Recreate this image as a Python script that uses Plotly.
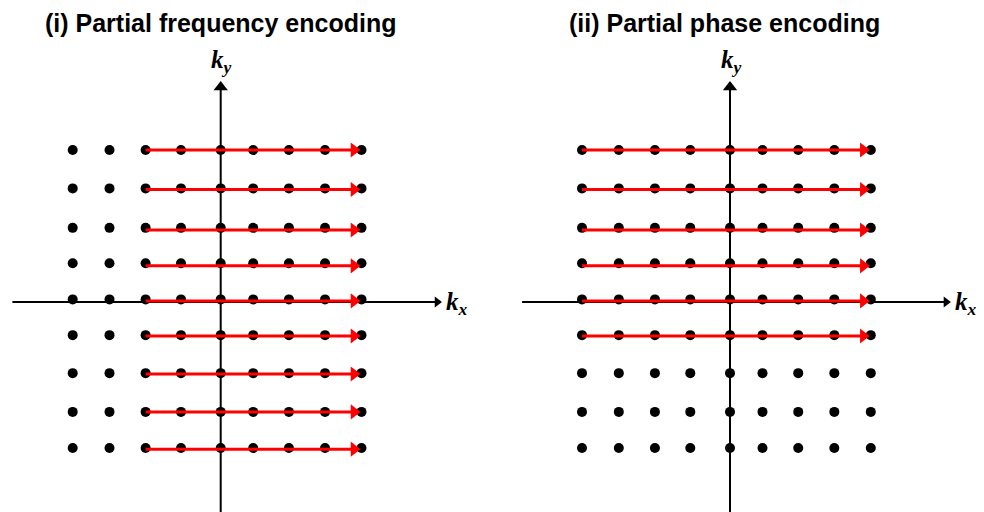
import plotly.graph_objects as go

# k-space grid (same sample positions in both panels, in grid units)
kx = [-4.1, -3.08, -2.08, -1.1, 0.0, 0.9, 1.89, 2.89, 3.9]
ky = [4.08, 3.05, 1.99, 1.04, 0.07, -0.89, -1.91, -2.95, -3.92]

# readout trajectories (red arrows): rows, start and end kx
traj_ky_left = [4.08, 3.02, 1.93, 0.97, 0.03, -0.91, -1.93, -2.95, -3.95]
traj_start_left, traj_end_left = -2.08, 3.9
traj_ky_right = [4.08, 3.02, 1.93, 0.97, 0.03, -0.91]
traj_start_right, traj_end_right = -4.1, 3.9

# coordinate axes extents
axis_x_left = [-5.77, 6.15]
axis_x_right = [-5.76, 6.14]
axis_y = [-5.64, 5.96]

titles = ["(i) Partial frequency encoding", "(ii) Partial phase encoding"]

# page has an 8px body margin: figure covers window px 8..984 x 8..512
W, H = 976, 504
XL = [-5.892, 7.515]
XR = [-6.593, 7.036]
YR = [-5.638, 7.893]
split = 484 / W
px_x = (split * W) / (XL[1] - XL[0])     # px per kx unit
px_y = H / (YR[1] - YR[0])               # px per ky unit

K = 2 / 3 ** 0.5  # triangle marker tip distance factor (times radius)

fig = go.Figure()


def head(xa, ya, x, y, size, color, direction):
    """triangle arrow head whose tip sits at (x, y)"""
    r = size / 2
    if direction == "right":
        x = x - K * r / px_x
        sym = "triangle-right"
    else:
        y = y - K * r / px_y
        sym = "triangle-up"
    fig.add_trace(go.Scatter(
        x=[x], y=[y], mode="markers",
        marker=dict(symbol=sym, size=size, color=color, line=dict(width=0)),
        xaxis=xa, yaxis=ya, hoverinfo="skip", showlegend=False))


def panel(xa, ya, traj_ky, t0, t1, ax_x):
    # coordinate axes
    fig.add_trace(go.Scatter(
        x=[ax_x[0], ax_x[1] - 0.1], y=[0, 0], mode="lines",
        line=dict(color="black", width=2),
        xaxis=xa, yaxis=ya, hoverinfo="skip", showlegend=False))
    head(xa, ya, ax_x[1], 0, 9.6, "black", "right")
    fig.add_trace(go.Scatter(
        x=[0, 0], y=[axis_y[0], axis_y[1] - 0.1], mode="lines",
        line=dict(color="black", width=2),
        xaxis=xa, yaxis=ya, hoverinfo="skip", showlegend=False))
    head(xa, ya, 0, axis_y[1], 12.4, "black", "up")
    # grid dots
    gx, gy = [], []
    for yy in ky:
        for xx in kx:
            gx.append(xx)
            gy.append(yy)
    fig.add_trace(go.Scatter(
        x=gx, y=gy, mode="markers",
        marker=dict(symbol="circle", size=10, color="black", line=dict(width=0)),
        xaxis=xa, yaxis=ya, hoverinfo="skip", showlegend=False))
    # red trajectories
    for yy in traj_ky:
        fig.add_trace(go.Scatter(
            x=[t0, t1 - 0.1], y=[yy, yy], mode="lines",
            line=dict(color="#ff0000", width=3),
            xaxis=xa, yaxis=ya, hoverinfo="skip", showlegend=False))
        head(xa, ya, t1, yy, 13, "#ff0000", "right")


panel("x", "y", traj_ky_left, traj_start_left, traj_end_left, axis_x_left)
panel("x2", "y", traj_ky_right, traj_start_right, traj_end_right, axis_x_right)

ann = []
lab_font = dict(family="Liberation Serif", size=25, color="black")
for xr, xpos in (("x", axis_x_left[1]), ("x2", axis_x_right[1])):
    ann.append(dict(x=xpos, y=0, xref=xr, yref="y", xanchor="left", yanchor="middle",
                    xshift=1, yshift=-1, showarrow=False,
                    text="<b><i>k<sub>x</sub></i></b>", font=lab_font))
    ann.append(dict(x=0, y=axis_y[1], xref=xr, yref="y", xanchor="center", yanchor="bottom",
                    xshift=1, yshift=1, showarrow=False,
                    text="<b><i>k<sub>y</sub></i></b>", font=lab_font))
for t, xp in zip(titles, [212.5 / W, 716 / W]):
    ann.append(dict(x=xp, y=1 - 14.5 / H, xref="paper", yref="paper", xanchor="center",
                    yanchor="middle", showarrow=False, text="<b>" + t + "</b>",
                    font=dict(family="Liberation Sans", size=25, color="black")))

ax_common = dict(visible=False, showgrid=False, zeroline=False, fixedrange=True)
fig.update_layout(
    width=W, height=H,
    margin=dict(l=0, r=0, t=0, b=0),
    paper_bgcolor="white", plot_bgcolor="white",
    xaxis=dict(domain=[0, split], range=XL, **ax_common),
    xaxis2=dict(domain=[split, 1], range=XR, **ax_common),
    yaxis=dict(domain=[0, 1], range=YR, **ax_common),
    annotations=ann,
    showlegend=False,
)

fig.write_html("out.html")
